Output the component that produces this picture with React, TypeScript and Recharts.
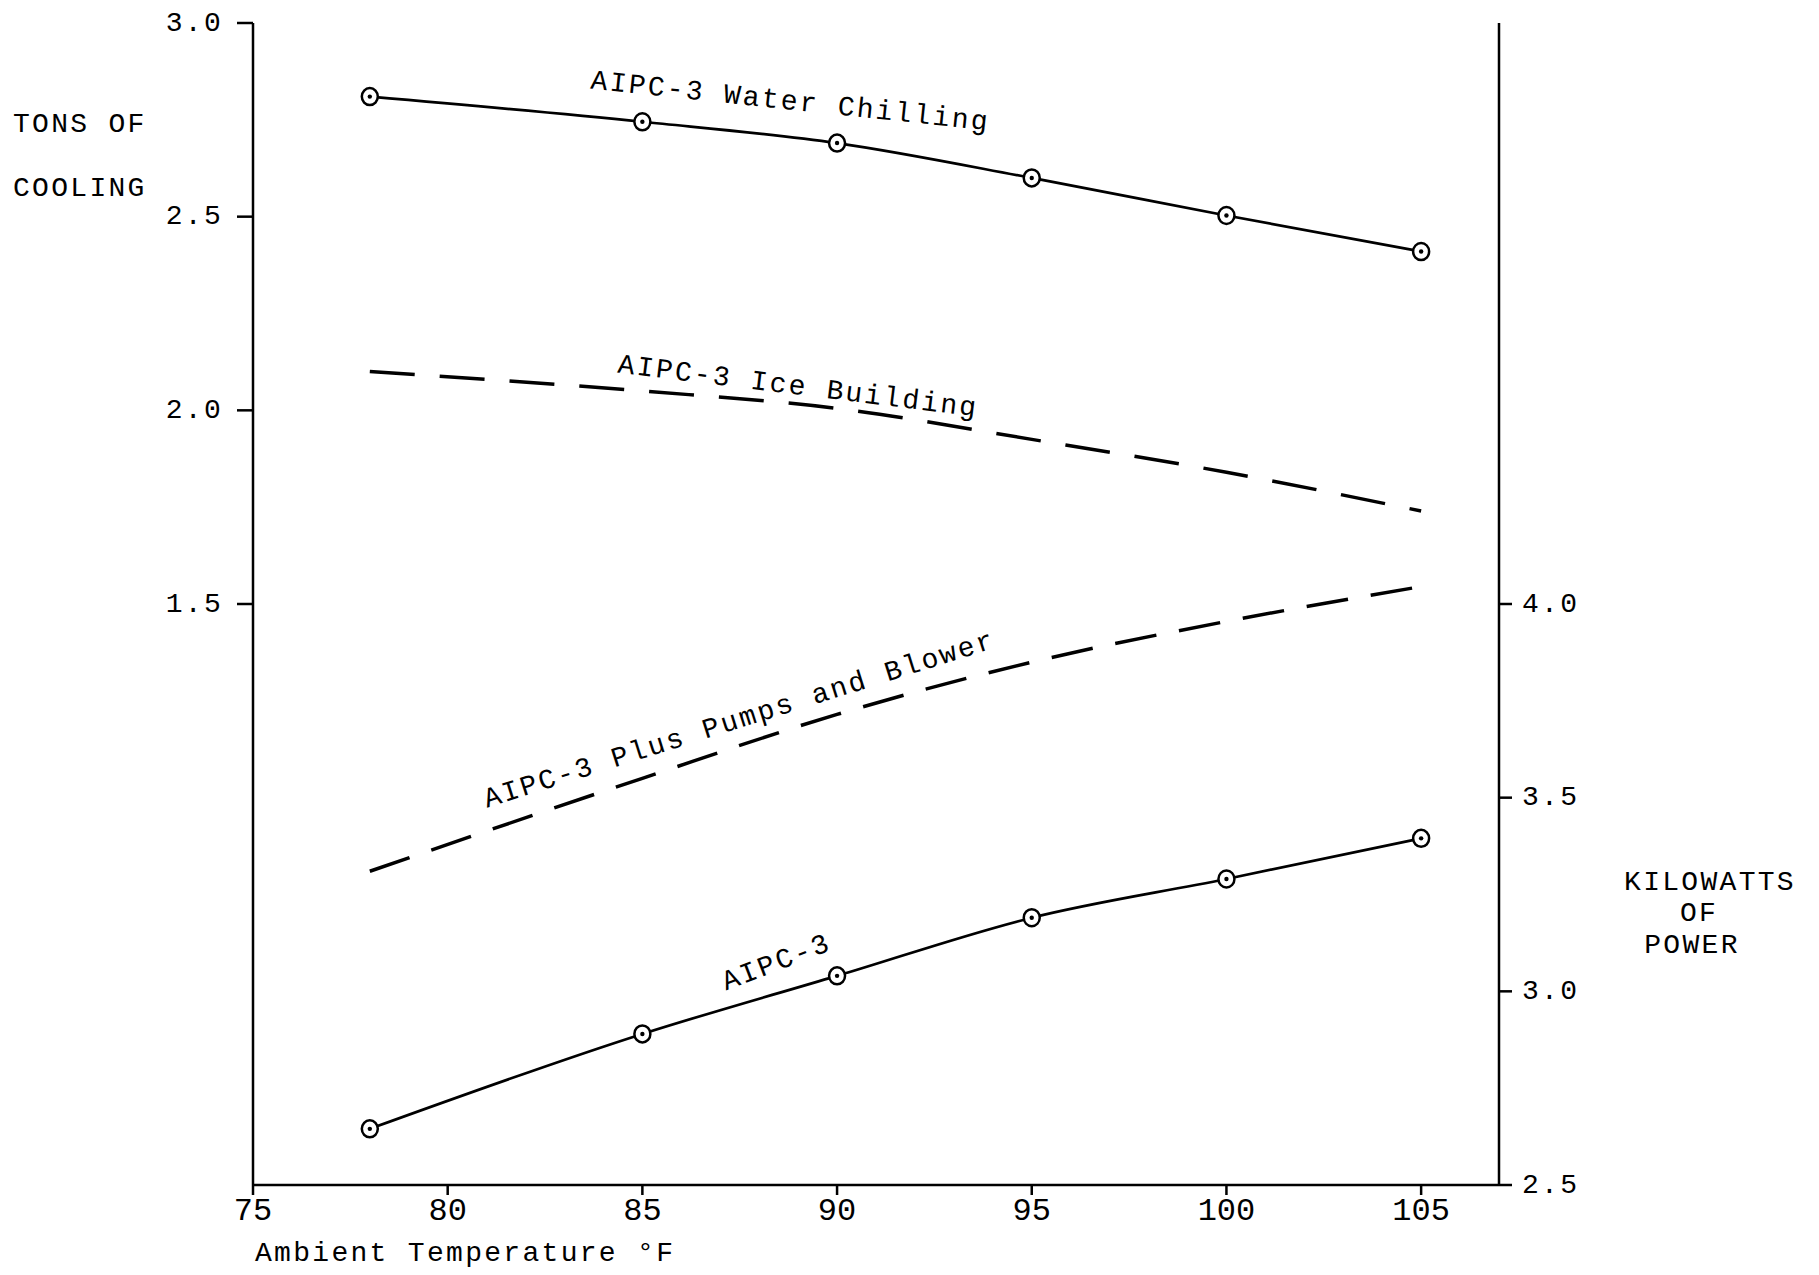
import React from "react";
import { LineChart, Line, XAxis, YAxis, ReferenceDot } from "recharts";

const FONT = '"Liberation Mono", "Courier New", monospace';

// ambient temperature, °F
const temps = [78, 85, 90, 95, 100, 105];
// tons of cooling (left axis)
const waterChilling = [2.81, 2.745, 2.69, 2.6, 2.503, 2.41];
const iceBuilding = [2.1, 2.05, 2.005, 1.925, 1.84, 1.74];
// kilowatts of power (right axis)
const plusPumpsBlower = [3.31, 3.55, 3.715, 3.85, 3.955, 4.045];
const aipc3Power = [2.645, 2.89, 3.04, 3.19, 3.29, 3.395];

const xTicks = [75, 80, 85, 90, 95, 100, 105];
const tonsTicks = [1.5, 2.0, 2.5, 3.0];
const kwTicks = [2.5, 3.0, 3.5, 4.0];

// curve captions, placed in data coordinates
const captionText = ["AIPC-3 Water Chilling", "AIPC-3 Ice Building", "AIPC-3 Plus Pumps and Blower", "AIPC-3"];
const captionTemp = [88.8, 89.0, 87.5, 88.45];
const captionValue = [2.796, 2.06, 3.7, 3.073];
const captionAxis = ["tons", "tons", "kw", "kw"];
const captionAngle = [6, 7, -17.5, -21];

const data = temps.map((t, i) => ({
  temp: t,
  water: waterChilling[i],
  ice: iceBuilding[i],
  pumps: plusPumpsBlower[i],
  aipc3: aipc3Power[i],
}));

const AXIS = { stroke: "#000", strokeWidth: 2.5 };
const TXT = { fontFamily: FONT, fontSize: 28, letterSpacing: 2.3, fill: "#000" };

function YTick(props: any) {
  const { x, y, payload, textAnchor } = props;
  return (
    <text x={x} y={y} textAnchor={textAnchor} dominantBaseline="central" {...TXT}>
      {Number(payload.value).toFixed(1)}
    </text>
  );
}

function XTick(props: any) {
  const { x, y, payload } = props;
  return (
    <text x={x} y={y} dy="0.72em" textAnchor="middle" fontFamily={FONT} fontSize={32} fill="#000">
      {payload.value}
    </text>
  );
}

function RingDot(props: any) {
  const { cx, cy, index, dataKey } = props;
  if (cx == null || cy == null) return <g key={`${dataKey}-${index}`} />;
  return (
    <g key={`${dataKey}-${index}`}>
      <ellipse cx={cx} cy={cy} rx={8} ry={8.5} fill="#fff" stroke="#000" strokeWidth={2.5} />
      <circle cx={cx} cy={cy} r={2.2} fill="#000" />
    </g>
  );
}

function LeftTitle(props: any) {
  const vb = props.viewBox || { x: 0, y: 23 };
  return (
    <g>
      <text x={vb.x + 13} y={vb.y + 101} dominantBaseline="central" {...TXT}>TONS OF</text>
      <text x={vb.x + 13} y={vb.y + 165} dominantBaseline="central" {...TXT}>COOLING</text>
    </g>
  );
}

function RightTitle(props: any) {
  const vb = props.viewBox || { x: 1499, y: 23 };
  return (
    <g>
      <text x={vb.x + 211} y={vb.y + 859} textAnchor="middle" dominantBaseline="central" {...TXT}>KILOWATTS</text>
      <text x={vb.x + 200} y={vb.y + 890} textAnchor="middle" dominantBaseline="central" {...TXT}>OF</text>
      <text x={vb.x + 193} y={vb.y + 922} textAnchor="middle" dominantBaseline="central" {...TXT}>POWER</text>
    </g>
  );
}

function XTitle(props: any) {
  const vb = props.viewBox || { x: 253, y: 1185 };
  return (
    <text x={vb.x + 2} y={vb.y + 68} dominantBaseline="central" {...TXT}>
      Ambient Temperature °F
    </text>
  );
}

function Caption({ viewBox, text, angle }: any) {
  if (!viewBox) return null;
  const cx = viewBox.x + (viewBox.width || 0) / 2;
  const cy = viewBox.y + (viewBox.height || 0) / 2;
  return (
    <text
      x={cx}
      y={cy}
      transform={`rotate(${angle}, ${cx}, ${cy})`}
      textAnchor="middle"
      dominantBaseline="central"
      {...TXT}
    >
      {text}
    </text>
  );
}

export default function App() {
  return (
    <>
      <style>{"body { margin: 0; }"}</style>
      <LineChart width={1819} height={1275} data={data} margin={{ top: 23, right: 200, bottom: 50, left: 0 }}>
        <XAxis
          dataKey="temp"
          type="number"
          domain={[75, 107]}
          ticks={xTicks}
          height={40}
          tickSize={10}
          tickMargin={2}
          axisLine={AXIS}
          tickLine={AXIS}
          tick={XTick}
          label={{ content: XTitle }}
        />
        <YAxis
          yAxisId="tons"
          orientation="left"
          domain={[0, 3]}
          ticks={tonsTicks}
          width={253}
          tickSize={16}
          tickMargin={14}
          axisLine={AXIS}
          tickLine={AXIS}
          tick={YTick}
          label={{ content: LeftTitle }}
        />
        <YAxis
          yAxisId="kw"
          orientation="right"
          domain={[2.5, 5.5]}
          ticks={kwTicks}
          width={120}
          tickSize={13}
          tickMargin={10}
          axisLine={AXIS}
          tickLine={AXIS}
          tick={YTick}
          label={{ content: RightTitle }}
        />

        <Line yAxisId="tons" type="monotone" dataKey="water" stroke="#000" strokeWidth={2.7} dot={RingDot} activeDot={false} isAnimationActive={false} />
        <Line yAxisId="tons" type="monotone" dataKey="ice" stroke="#000" strokeWidth={3.5} strokeDasharray="45 25" dot={false} activeDot={false} isAnimationActive={false} />
        <Line yAxisId="kw" type="monotone" dataKey="pumps" stroke="#000" strokeWidth={3.5} strokeDasharray="42 23" dot={false} activeDot={false} isAnimationActive={false} />
        <Line yAxisId="kw" type="monotone" dataKey="aipc3" stroke="#000" strokeWidth={2.7} dot={RingDot} activeDot={false} isAnimationActive={false} />

        {captionText.map((text, i) => (
          <ReferenceDot
            key={text}
            yAxisId={captionAxis[i]}
            x={captionTemp[i]}
            y={captionValue[i]}
            r={1}
            fill="none"
            stroke="none"
            label={{ content: (p: any) => <Caption {...p} text={text} angle={captionAngle[i]} /> }}
          />
        ))}
      </LineChart>
    </>
  );
}
